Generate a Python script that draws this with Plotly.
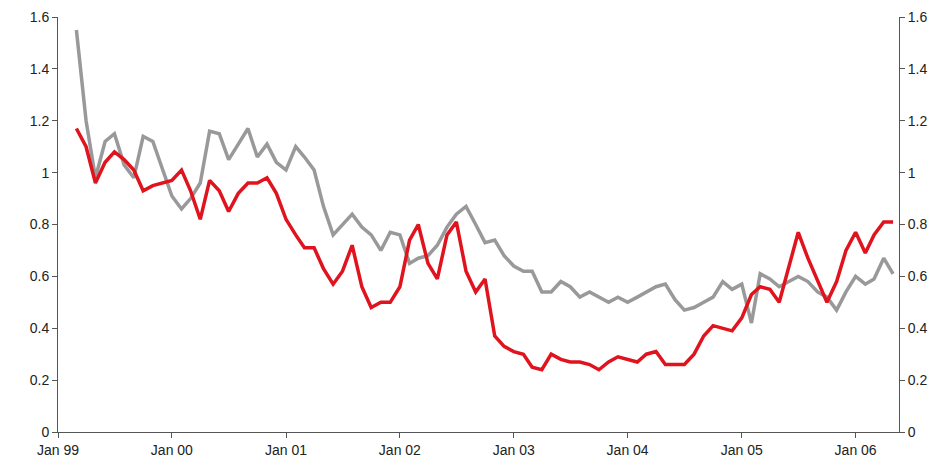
import pandas as pd
import plotly.graph_objects as go

red = [1.17, 1.10, 0.96, 1.04, 1.08, 1.05, 1.01, 0.93, 0.95, 0.96,
       0.97, 1.01, 0.93, 0.82, 0.97, 0.93, 0.85, 0.92, 0.96, 0.96, 0.98, 0.92,
       0.82, 0.76, 0.71, 0.71, 0.63, 0.57, 0.62, 0.72, 0.56, 0.48, 0.50, 0.50,
       0.56, 0.74, 0.80, 0.65, 0.59, 0.76, 0.81, 0.62, 0.54, 0.59, 0.37, 0.33,
       0.31, 0.30, 0.25, 0.24, 0.30, 0.28, 0.27, 0.27, 0.26, 0.24, 0.27, 0.29,
       0.28, 0.27, 0.30, 0.31, 0.26, 0.26, 0.26, 0.30, 0.37, 0.41, 0.40, 0.39,
       0.44, 0.53, 0.56, 0.55, 0.50, 0.64, 0.77, 0.67, 0.58, 0.50, 0.58, 0.70,
       0.77, 0.69, 0.76, 0.81, 0.81]
gray = [1.55, 1.20, 0.98, 1.12, 1.15, 1.03, 0.98, 1.14, 1.12, 1.02,
        0.91, 0.86, 0.90, 0.96, 1.16, 1.15, 1.05, 1.11, 1.17, 1.06, 1.11, 1.04,
        1.01, 1.10, 1.06, 1.01, 0.87, 0.76, 0.80, 0.84, 0.79, 0.76, 0.70, 0.77,
        0.76, 0.65, 0.67, 0.68, 0.72, 0.79, 0.84, 0.87, 0.80, 0.73, 0.74, 0.68,
        0.64, 0.62, 0.62, 0.54, 0.54, 0.58, 0.56, 0.52, 0.54, 0.52, 0.50, 0.52,
        0.50, 0.52, 0.54, 0.56, 0.57, 0.51, 0.47, 0.48, 0.50, 0.52, 0.58, 0.55,
        0.57, 0.42, 0.61, 0.59, 0.56, 0.58, 0.60, 0.58, 0.54, 0.52, 0.47, 0.54,
        0.59, 0.60, 0.57, 0.59, 0.67, 0.61]
gray = gray[:-6] + gray[-5:]
dates = pd.date_range("1999-03-01", periods=len(red), freq="MS")

fig = go.Figure()
fig.add_trace(go.Scatter(x=dates, y=gray, mode="lines", line=dict(color="#999999", width=3.5)))
fig.add_trace(go.Scatter(x=dates, y=red, mode="lines", line=dict(color="#e0141e", width=3.5)))
fig.add_trace(go.Scatter(x=dates[:1], y=[None], yaxis="y2", showlegend=False))

yax = dict(range=[0, 1.6], dtick=0.2, showgrid=False, zeroline=False, showline=True,
           linecolor="#555555", ticks="outside", ticklen=5, tickcolor="#555555",
           automargin=False,
           tickfont=dict(family="Liberation Sans", size=14, color="#222"))
fig.update_layout(
    width=941, height=465, showlegend=False,
    plot_bgcolor="white", paper_bgcolor="white",
    margin=dict(l=50, r=50, t=9, b=41),
    xaxis=dict(range=["1999-01-01", "2006-05-20"], tickformat="%b %y",
               tickvals=pd.date_range("1999-01-01", "2006-01-01", freq="YS"),
               showgrid=False, showline=True, linecolor="#555555", ticks="outside",
               ticklen=5, tickcolor="#555555", automargin=False,
               tickfont=dict(family="Liberation Sans", size=14, color="#222")),
    yaxis=yax,
    yaxis2=dict(yax, overlaying="y", side="right"),
)
fig.write_html("out.html")
